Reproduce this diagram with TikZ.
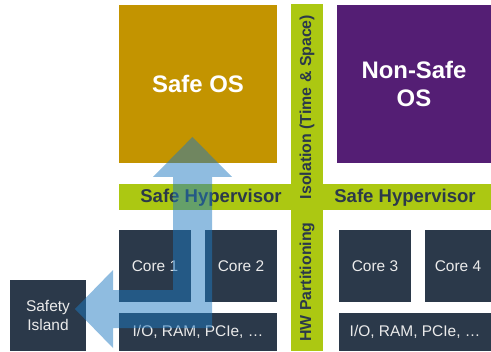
\documentclass[tikz,border=0pt]{standalone}
\usepackage{fontspec}
\setmainfont{Liberation Sans}
\definecolor{safegold}{RGB}{195,148,0}
\definecolor{nonsafe}{RGB}{84,30,116}
\definecolor{hwdark}{RGB}{43,57,74}
\definecolor{isogreen}{RGB}{172,200,18}
\definecolor{pathblue}{RGB}{31,121,193}
\begin{document}
\begin{tikzpicture}
\tikzstyle{os}   = [rectangle, align=center, text=white, inner sep=0pt, font=\fontsize{17}{20.5}\selectfont\bfseries]
\tikzstyle{hw}   = [rectangle, align=center, fill=hwdark, text=white!92!black, inner sep=0pt, font=\fontsize{11}{13.4}\selectfont]
\tikzstyle{bar}  = [rectangle, fill=isogreen, inner sep=0pt]
\tikzstyle{hyp}  = [rectangle, text centered, text=hwdark, inner sep=0pt, font=\fontsize{13.2}{16}\selectfont\bfseries]
\tikzstyle{part} = [rectangle, text centered, text=hwdark, inner sep=0pt, rotate=90, font=\fontsize{11.3}{13.6}\selectfont\bfseries]
\useasboundingbox (0.00, 0.00) rectangle (12.275, 8.775);
\node[os, fill=safegold, minimum height=3.95cm, minimum width=3.95cm] at (4.95, 6.675) (os_safe) {Safe OS};
\node[os, fill=nonsafe, minimum height=3.95cm, minimum width=3.85cm] at (10.35, 6.675) (os_nonsafe) {Non-Safe\\OS};
\node[bar, minimum height=0.65cm, minimum width=9.30cm] at (7.625, 3.85) (hyp_bar) {};
\node[bar, minimum height=8.675cm, minimum width=0.80cm] at (7.675, 4.3375) (iso_bar) {};
\node[hyp] at (5.275, 3.83) (hyp_l) {Safe Hypervisor};
\node[hyp] at (10.125, 3.83) (hyp_r) {Safe Hypervisor};
\node[part] at (7.675, 6.10) (iso_txt) {Isolation (Time \& Space)};
\node[part] at (7.675, 1.725) (part_txt) {HW Partitioning};
\node[hw, minimum height=1.80cm, minimum width=1.80cm] at (3.875, 2.125) (core_1) {Core 1};
\node[hw, minimum height=1.80cm, minimum width=1.80cm] at (6.025, 2.125) (core_2) {Core 2};
\node[hw, minimum height=1.80cm, minimum width=1.80cm] at (9.375, 2.125) (core_3) {Core 3};
\node[hw, minimum height=1.80cm, minimum width=1.65cm] at (11.45, 2.125) (core_4) {Core 4};
\node[hw, minimum height=0.95cm, minimum width=3.95cm] at (4.95, 0.475) (io_l) {I/O, RAM, PCIe, …};
\node[hw, minimum height=0.95cm, minimum width=3.80cm] at (10.375, 0.475) (io_r) {I/O, RAM, PCIe, …};
\node[hw, minimum height=1.775cm, minimum width=1.90cm] at (1.20, 0.8875) (island) {Safety\\Island};
% safety path: cores -> safe OS and -> safety island
\fill[pathblue, fill opacity=0.5] (4.81, 5.35) -- (5.80, 4.35) -- (5.30, 4.35) -- (5.30, 0.575) -- (2.825, 0.575) -- (2.825, 0.075) -- (1.875, 1.05) -- (2.825, 2.025) -- (2.825, 1.525) -- (4.325, 1.525) -- (4.325, 4.35) -- (3.825, 4.35) -- cycle;
\end{tikzpicture}
\end{document}
